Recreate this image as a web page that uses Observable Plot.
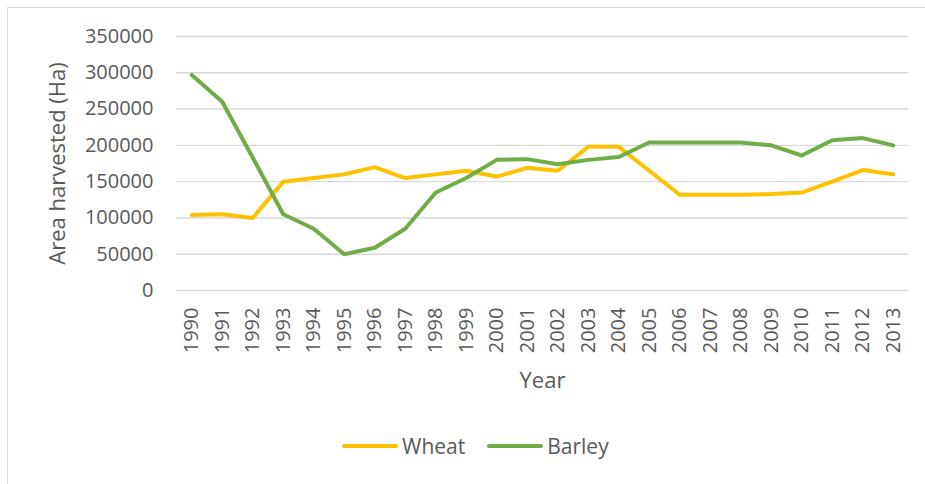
<!DOCTYPE html>
<html>
<head>
<meta charset="utf-8">
<script src="https://cdn.jsdelivr.net/npm/d3@7"></script>
<script src="https://cdn.jsdelivr.net/npm/@observablehq/plot@0.6"></script>
<style>
  html, body { margin: 0; padding: 0; background: #fff; overflow: hidden; }
  body { width: 925px; height: 484px; position: relative; font-family: "Open Sans", sans-serif; }
  #frame { position: absolute; left: 7px; top: 7px; width: 1000px; height: 1000px; border-left: 1.5px solid #d9d9d9; border-top: 1.5px solid #d9d9d9; box-sizing: border-box; }
  #chart { position: absolute; left: 0; top: 0; }
  #legend { position: absolute; left: 341px; top: 432px; display: flex; align-items: center; color: #595959; font-size: 21px; }
  #legend .item { display: flex; align-items: center; margin-right: 21px; }
  #legend svg { margin-right: 3px; }
</style>
</head>
<body>
<div id="frame"></div>
<div id="chart"></div>
<div id="legend"></div>
<script>
const years = ["1990","1991","1992","1993","1994","1995","1996","1997","1998","1999","2000","2001","2002","2003","2004","2005","2006","2007","2008","2009","2010","2011","2012","2013"];
const wheat = [104000,105000,100000,150000,155000,160000,170000,155000,160000,165000,157000,169000,165000,198000,198000,165000,132000,132000,132000,133000,135000,150000,166000,160000];
const barley = [297000,260000,183000,105000,85000,50000,59000,85000,135000,155000,180000,181000,174000,180000,184000,204000,204000,204000,204000,200000,186000,207000,210000,200000];
const seriesNames = ["Wheat","Barley"];
const seriesColors = ["#FFC000","#70AD47"];
const yTicks = [0,50000,100000,150000,200000,250000,300000,350000];
const xTitle = "Year";
const yTitle = "Area harvested (Ha)";

const data = [];
years.forEach((y, i) => {
  data.push({year: y, value: wheat[i], series: "Wheat"});
  data.push({year: y, value: barley[i], series: "Barley"});
});

const chart = Plot.plot({
  width: 925,
  height: 420,
  marginLeft: 176,
  marginRight: 17,
  marginTop: 36,
  marginBottom: 130,
  style: {fontFamily: "Open Sans, sans-serif", color: "#595959", background: "transparent"},
  x: {type: "point", domain: years, padding: 0.5, round: false},
  y: {domain: [0, 350000]},
  color: {domain: seriesNames, range: seriesColors},
  marks: [
    Plot.gridY(yTicks, {stroke: "#d9d9d9", strokeOpacity: 1, strokeWidth: 1.4}),
    Plot.axisY(yTicks, {tickSize: 0, tickPadding: 23, fontSize: 20, tickFormat: d => String(d),
      label: yTitle, labelAnchor: "center", labelArrow: "none", labelOffset: 127}),
    Plot.axisX({tickSize: 0, tickRotate: -90, tickPadding: 17, fontSize: 20,
      label: xTitle, labelAnchor: "center", labelArrow: "none", labelOffset: 97}),
    Plot.line(data, {x: "year", y: "value", z: "series", stroke: "series", strokeWidth: 4,
      strokeLinejoin: "round", strokeLinecap: "round"})
  ]
});
document.getElementById("chart").appendChild(chart);

chart.querySelectorAll("g[aria-label='y-axis label'] text, g[aria-label='x-axis label'] text").forEach(t => t.setAttribute("font-size", 22));

const legend = document.getElementById("legend");
seriesNames.forEach((name, i) => {
  const item = document.createElement("div");
  item.className = "item";
  item.innerHTML = `<svg width="58" height="10"><line x1="3" y1="5" x2="55" y2="5" stroke="${seriesColors[i]}" stroke-width="4" stroke-linecap="round"/></svg><span>${name}</span>`;
  legend.appendChild(item);
});
</script>
</body>
</html>
